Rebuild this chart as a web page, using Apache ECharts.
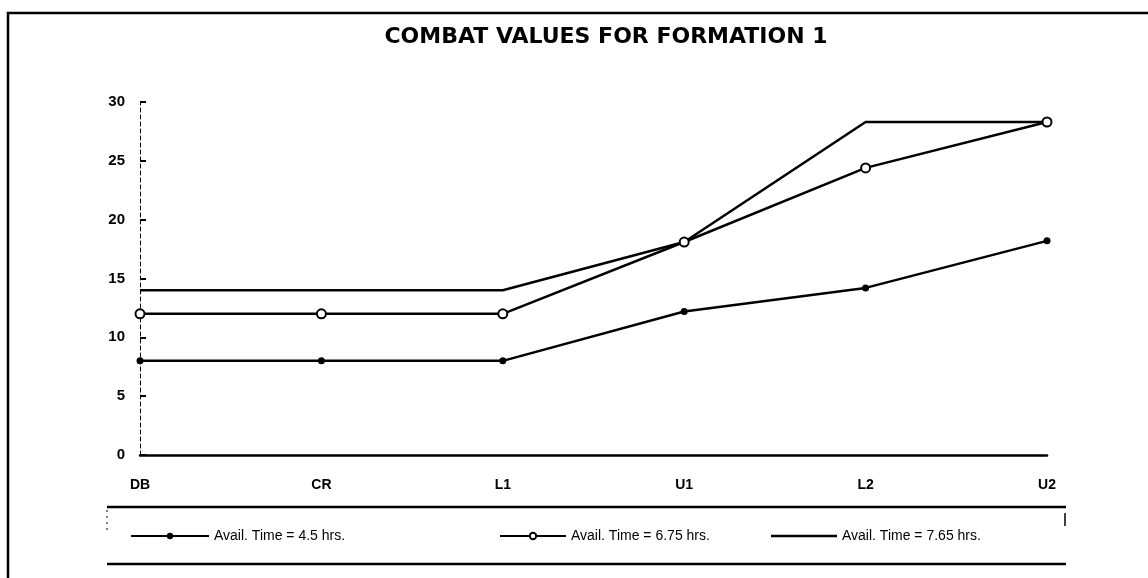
<!DOCTYPE html>
<html>
<head>
<meta charset="utf-8">
<script src="https://cdn.jsdelivr.net/npm/echarts@6/dist/echarts.min.js"></script>
<style>
  html, body { margin: 0; padding: 0; background: #fff; }
  #main { width: 1148px; height: 578px; }
</style>
</head>
<body>
<div id="main"></div>
<script>
// categories along the x axis
var stages = ['DB', 'CR', 'L1', 'U1', 'L2', 'U2'];
// combat values
var time45 = [8, 8, 8, 12.2, 14.2, 18.2];
var time675 = [12, 12, 12, 18.1, 24.4, 28.3];
var time765 = [14, 14, 14, 18.1, 28.3, 28.3];
var seriesNames = ['Avail. Time = 4.5 hrs.', 'Avail. Time = 6.75 hrs.', 'Avail. Time = 7.65 hrs.'];

var chart = echarts.init(document.getElementById('main'), null, { renderer: 'canvas' });

var labelFont = 'Arial, Liberation Sans, sans-serif';
var legendText = { color: '#000', fontSize: 14, fontFamily: labelFont };

var option = {
  backgroundColor: '#fff',
  animation: false,
  title: {
    text: 'COMBAT VALUES FOR FORMATION 1',
    left: 601,
    textAlign: 'center',
    top: 21,
    textStyle: { color: '#000', fontSize: 22, fontWeight: 'bold', fontFamily: 'DejaVu Sans' }
  },
  grid: { left: 140, right: 101, top: 102, bottom: 123 },
  legend: [
    { data: [seriesNames[0]], left: 125, top: 524, itemWidth: 78, itemHeight: 8, textStyle: legendText },
    { data: [seriesNames[1]], left: 494, top: 524, itemWidth: 66, itemHeight: 8, textStyle: legendText },
    { data: [{ name: seriesNames[2], icon: 'rect' }], left: 766, top: 524, itemWidth: 66, itemHeight: 2.5, textStyle: legendText }
  ],
  xAxis: {
    type: 'category',
    data: stages,
    boundaryGap: false,
    axisLine: { lineStyle: { color: '#000', width: 2.5 } },
    axisTick: { show: false },
    axisLabel: { color: '#000', fontSize: 14, fontWeight: 'bold', margin: 23, fontFamily: labelFont }
  },
  yAxis: {
    type: 'value',
    min: 0,
    max: 30,
    interval: 5,
    splitLine: { show: false },
    axisLine: { show: true, lineStyle: { color: '#000', width: 1, type: [4, 3] } },
    axisTick: { show: true, inside: true, length: 6, lineStyle: { color: '#000', width: 2 } },
    axisLabel: { color: '#000', fontSize: 15, fontWeight: 'bold', margin: 15, fontFamily: labelFont }
  },
  series: [
    {
      name: seriesNames[0], type: 'line', data: time45,
      symbol: 'circle', symbolSize: 7,
      lineStyle: { color: '#000', width: 2.5 },
      itemStyle: { color: '#000' }
    },
    {
      name: seriesNames[1], type: 'line', data: time675,
      symbol: 'emptyCircle', symbolSize: 9, z: 3,
      lineStyle: { color: '#000', width: 2.5 },
      itemStyle: { color: '#000', borderColor: '#000', borderWidth: 2 }
    },
    {
      name: seriesNames[2], type: 'line', data: time765,
      symbol: 'none',
      lineStyle: { color: '#000', width: 2.5 },
      itemStyle: { color: '#000' }
    }
  ],
  graphic: [
    // outer frame (left and top only, as in the scan)
    { type: 'polyline', shape: { points: [[8, 578], [8, 13], [1148, 13]] }, style: { stroke: '#000', lineWidth: 2.5, fill: null } },
    // legend box
    { type: 'line', shape: { x1: 107, y1: 507, x2: 1066, y2: 507 }, style: { stroke: '#000', lineWidth: 2.5 } },
    { type: 'line', shape: { x1: 107, y1: 564, x2: 1066, y2: 564 }, style: { stroke: '#000', lineWidth: 2.5 } },
    { type: 'line', shape: { x1: 107, y1: 510, x2: 107, y2: 530 }, style: { stroke: '#000', lineWidth: 1, lineDash: [2, 4] } },
    { type: 'line', shape: { x1: 1065, y1: 513, x2: 1065, y2: 526 }, style: { stroke: '#000', lineWidth: 1.5 } }
  ]
};

chart.setOption(option);
</script>
</body>
</html>
